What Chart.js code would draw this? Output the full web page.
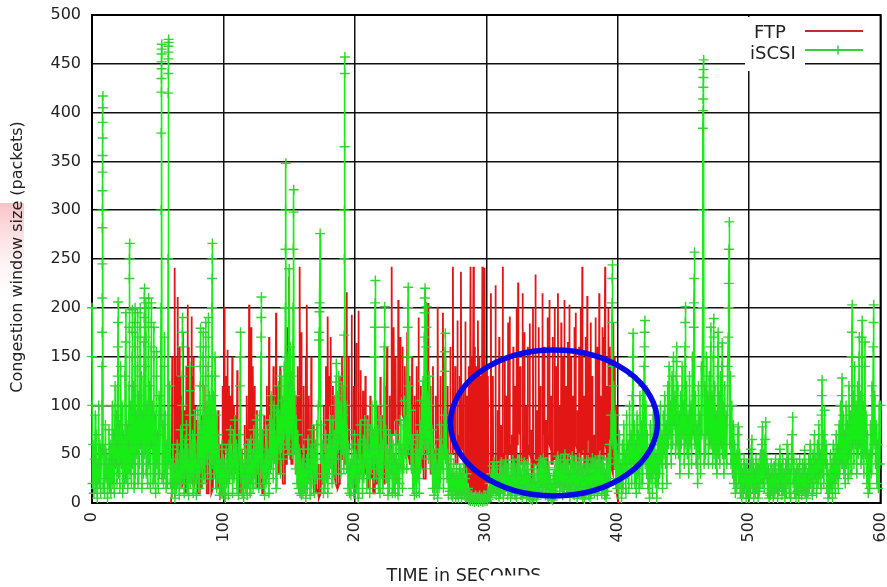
<!DOCTYPE html>
<html>
<head>
<meta charset="utf-8">
<script src="https://cdn.jsdelivr.net/npm/chart.js@4.4.1/dist/chart.umd.min.js"></script>
<style>
  html, body { margin: 0; padding: 0; background: #fff; overflow: hidden; }
  canvas { display: block; }
</style>
</head>
<body>
<canvas id="cwnd" width="887" height="587"></canvas>
<script>
// Axis ticks
const timeTicks = [0, 100, 200, 300, 400, 500, 600];
const cwndTicks = [0, 50, 100, 150, 200, 250, 300, 350, 400, 450, 500];
const seriesNames = ['FTP', 'iSCSI'];
const xTitle = 'TIME in SECONDS';
const yTitle = 'Congestion window size (packets)';

// FTP congestion window, [time (s), cwnd (packets)]
const ftpSamples = [
  [60,0],
  [60.7,10],[61,150],[61.3,25],[62.6,20],[62.9,241],[63.2,40],[63.4,45],[63.6,150],[63.9,30],
  [64.1,30],[64.3,130],[64.6,20],[64.9,25],[65.2,211],[65.5,50],[66.3,40],[66.6,160],[66.9,30],
  [67.1,35],[67.3,130],[67.6,20],[67.8,25],[68,110],[68.3,15],[68.9,20],[69.2,175],[69.5,45],
  [70.2,30],[70.5,95],[70.8,10],[71.5,20],[71.8,140],[72.1,40],[72.5,40],[72.7,203],[73,30],
  [73.2,35],[73.4,160],[73.7,50],[74.2,45],[74.5,120],[74.8,55],[75.4,60],[75.7,191],[76,45],
  [76.2,45],[76.4,130],[76.7,20],[77,20],[77.2,150],[77.5,15],[78.1,20],[78.4,100],[78.7,30],
  [79.7,25],[80,85],[80.3,10],[81.7,10],[82,60],[82.3,15],[83.2,15],[83.5,90],[83.8,25],
  [84.7,25],[85,120],[85.3,40],[86.7,30],[87,75],[87.3,10],[88.3,10],[88.6,100],[88.9,30],
  [90.2,25],[90.5,65],[90.8,10],[92,15],[92.3,110],[92.6,35],[93.9,30],[94.2,80],[94.5,15],
  [95.7,15],[96,95],[96.3,20],[97.7,15],[98,60],[98.3,10],[99.1,15],[99.4,120],[99.7,45],
  [100.3,40],[100.6,201],[100.9,60],[101.6,55],[101.8,130],[102.1,80],[102.8,70],[103,157],[103.3,40],
  [104,40],[104.2,120],[104.5,70],[105.1,65],[105.3,110],[105.6,60],[106.4,60],[106.7,150],[107,30],
  [107.7,30],[108,100],[108.3,55],[109,50],[109.3,90],[109.6,60],[110.2,55],[110.5,136],[110.8,20],
  [112,20],[112.3,70],[112.6,10],[113.7,10],[114,55],[114.3,15],[115.7,15],[116,80],[116.3,20],
  [117.4,20],[117.7,110],[118,40],[119.2,40],[119.5,203],[119.8,70],[120.8,65],[121,180],[121.3,50],
  [122,50],[122.3,140],[122.6,90],[123.5,85],[123.7,120],[124,30],[125.2,30],[125.5,95],[125.8,15],
  [127.1,15],[127.4,75],[127.7,20],[128.9,20],[129.2,60],[129.5,10],[130.7,10],[131,90],[131.3,25],
  [132.7,25],[133,120],[133.3,60],[134.5,55],[134.7,170],[135,35],[136,35],[136.3,110],[136.6,55],
  [137.7,50],[138,140],[138.3,45],[139.7,45],[140,195],[140.3,60],[141.2,60],[141.4,120],[141.7,30],
  [142.8,30],[143.1,140],[143.4,50],[144.7,45],[145,100],[145.3,20],[146.5,20],[146.8,130],[147.1,40],
  [148.3,40],[148.6,180],[148.9,70],[149.6,70],[149.8,232],[150.1,50],[151,45],[151.3,120],[151.6,40],
  [152.7,40],[153,150],[153.3,60],[154.4,55],[154.7,110],[155,30],[156.2,30],[156.5,140],[156.8,50],
  [157.7,50],[158,242],[158.3,60],[159.1,60],[159.3,175],[159.6,40],
  [160.7,35],[161,120],[161.3,30],[162.2,30],[162.5,150],[162.8,120],[163.1,120],[163.4,203],[163.7,50],
  [164.7,45],[165,110],[165.3,25],[166.5,25],[166.8,150],[167.1,40],[168.3,35],[168.6,80],[168.9,10],
  [170.2,10],[170.5,60],[170.8,15],[172.1,10],[172.4,40],[172.7,5],[174,10],[174.3,55],[174.6,20],
  [175.9,20],[176.2,100],[176.5,35],[177.7,35],[178,140],[178.3,60],[179,60],[179.3,191],[179.6,70],
  [180.3,70],[180.6,130],[180.9,100],[181.3,100],[181.6,170],[181.9,40],[183,35],[183.3,120],[183.6,30],
  [184.7,25],[185,110],[185.3,20],[186.5,15],[186.8,90],[187.1,15],[188.3,20],[188.6,130],[188.9,45],
  [189.9,45],[190.2,150],[190.5,60],[191.7,55],[192,120],[192.3,40],[193.4,40],[193.7,216],[194,70],
  [195.1,65],[195.4,150],[195.7,55],[197.2,55],[197.5,193],[197.8,60],[198.9,55],[199.2,120],[199.5,30],
  [200.7,30],[201,164],[201.3,45],[202.4,45],[202.7,197],[203,60],[204.1,55],[204.4,136],[204.7,40],
  [205.9,35],[206.2,115],[206.5,30],[207.7,30],[208,130],[208.3,50],[209.5,45],[209.8,90],[210.1,15],
  [211.4,15],[211.7,110],[212,30],[213.3,25],[213.6,70],[213.9,10],[215.2,10],[215.5,85],[215.8,20],
  [217.1,20],[217.4,100],[217.7,30],[219.1,30],[219.4,129],[219.7,40],[221,35],[221.3,90],[221.6,20],
  [222.7,20],[223,120],[223.3,60],[224.2,60],[224.5,160],[224.8,35],[226.1,35],[226.4,110],[226.7,50],
  [227.8,50],[228,242],[228.3,70],[229.3,70],[229.5,180],[229.8,90],[230.8,85],[231,150],[231.3,60],
  [232.8,60],[233,208],[233.3,80],[234.3,80],[234.5,170],[234.8,110],[236,110],[236.2,160],[236.5,90],
  [237.8,85],[238,140],[238.3,70],[239.6,70],[239.8,175],[240.1,50],[241.4,45],[241.6,130],[241.9,40],
  [243.3,40],[243.5,150],[243.8,60],[245.1,55],[245.3,110],[245.6,30],[246.8,30],[247,140],[247.3,50],
  [248.2,50],[248.4,190],[248.7,70],[250,65],[250.2,120],[250.5,40],[251.8,35],[252,100],[252.3,25],
  [253.6,25],[253.8,140],[254.1,50],[255.5,50],[255.7,205],[256,60],[257.3,55],[257.5,120],[257.8,30],
  [259.2,30],[259.4,140],[259.7,55],[261.2,50],[261.4,110],[261.7,20],[262.8,20],[263,201],[263.3,50],
  [264.8,45],[265,130],[265.3,40],[266.8,40],[267,195],[267.3,60],[268.6,55],[268.8,150],[269.1,45],
  [270.4,40],[270.6,120],[270.9,30],[272.4,30],[272.6,160],[272.9,50],[274.4,50],[274.6,242],[274.9,60],
  [276.1,55],[276.3,140],[276.6,40],[277.8,40],[278,187],[278.3,70],[279.4,65],[279.6,130],[279.9,50],
  [280.5,50],[280.7,237],[281,60],[282.2,55],[282.4,120],[282.7,40],[283.8,40],[284,186],[284.3,30],
  [285.3,110],[285.9,20],[286.7,140],[287.3,15],[288,242],[288.4,10],[289.1,150],[289.6,15],[290.2,242],[290.6,10],
  [291.3,160],[291.8,12],[292.5,140],[293,10],[293.6,187],[294.1,12],[294.8,150],[295.3,8],[296,130],[296.5,10],
  [297,242],[297.4,8],[298,150],[298.4,10],[298.7,241],[299.2,12],[299.9,140],[300.4,10],[301.2,130],[301.8,20],
  [303.2,30],[303.5,215],[303.8,40],
  [304.8,40],[305,130],[305.2,45],[306.8,40],[307,223],[307.2,30],[308.4,30],[308.6,95],[308.8,25],
  [309.6,25],[309.8,170],[310,50],[311,45],[311.2,80],[311.4,20],[312.3,20],[312.5,242],[312.7,50],
  [313.8,45],[314,150],[314.2,35],[315.1,35],[315.3,110],[315.5,40],[316.4,40],[316.6,185],[316.8,55],
  [317.6,50],[317.8,191],[318,60],[319.1,55],[319.3,70],[319.5,20],[320.3,25],[320.5,160],[320.7,40],
  [321.7,40],[321.9,120],[322.1,30],[322.8,30],[323,200],[323.2,60],[324,60],[324.2,226],[324.4,80],
  [325.6,70],[325.8,140],[326,40],[327.4,40],[327.6,215],[327.8,70],[328.8,60],[329,175],[329.2,45],
  [330,45],[330.2,100],[330.4,40],[331.3,40],[331.5,160],[331.7,60],[332.8,55],[333,184],[333.2,50],
  [334.2,45],[334.4,75],[334.6,25],[335.3,30],[335.5,200],[335.7,45],[337.2,40],[337.4,234],[337.6,70],
  [338.5,60],[338.7,95],[338.9,30],[339.7,30],[339.9,180],[340.1,55],[341,50],[341.2,120],[341.4,40],
  [342.5,40],[342.7,215],[342.9,80],[343.9,70],[344.1,160],[344.3,45],[345.2,45],[345.4,85],[345.6,30],
  [346.4,30],[346.6,190],[346.8,70],[347.8,65],[348,208],[348.2,60],[349.1,55],[349.3,110],[349.5,40],
  [350.3,40],[350.5,170],[350.7,50],[351.8,45],[352,200],[352.2,50],[353.1,45],[353.3,140],[353.5,45],
  [354.3,50],[354.5,215],[354.7,70],[355.6,60],[355.8,100],[356,30],[356.8,30],[357,185],[357.2,45],
  [358.1,40],[358.3,150],[358.5,60],[359.2,60],[359.4,208],[359.6,50],[360.5,45],[360.7,120],[360.9,30],
  [361.8,30],[362,165],[362.2,40],[363,40],[363.2,203],[363.4,60],[364.3,55],[364.5,150],[364.7,50],
  [365.6,45],[365.8,110],[366,35],[366.8,35],[367,180],[367.2,60],[367.8,60],[368,195],[368.2,60],
  [369.2,55],[369.4,95],[369.6,30],[370.4,30],[370.6,160],[370.8,45],[371.6,40],[371.8,200],[372,50],
  [372.8,50],[373,242],[373.2,60],[374.1,55],[374.3,110],[374.5,35],[375.3,35],[375.5,170],[375.7,40],
  [376.6,40],[376.8,212],[377,70],[377.9,65],[378.1,150],[378.3,40],[379.2,35],[379.4,185],[379.6,50],
  [380.5,45],[380.7,130],[380.9,30],[381.8,25],[382,70],[382.2,20],[382.9,25],[383.1,190],[383.3,50],
  [384.3,45],[384.5,160],[384.7,50],[385.7,50],[385.9,215],[386.1,60],[387,55],[387.2,110],[387.4,40],
  [388.1,40],[388.3,180],[388.5,50],[389.2,45],[389.4,170],[389.6,60],[390.2,60],[390.4,242],[390.6,60],
  [391.4,55],[391.6,120],[391.8,40],[392.6,40],[392.8,200],[393,50],[393.8,45],[394,160],[394.2,40],
  [395.1,35],[395.3,140],[395.5,35],[396.3,30],[396.5,185],[396.7,40],[397.5,35],[397.7,150],[397.9,40],
  [398.9,35],[399.1,100],[399.4,10],[400.5,0]
];

// iSCSI congestion window, [time (s), cwnd (packets)]
const iscsiSamples = [
  [0,200],[0.1,150],[0.2,100],[0.4,20],[0.9,60],[1.4,10],[2,45],[2.5,90],[2.9,15],[3.5,70],
  [4,5],[4.6,40],[5.1,100],[5.5,20],[6.1,60],[6.6,10],[7.2,50],
  [7.6,100],[7.7,140],[7.75,175],[7.8,210],[7.85,245],[7.9,282],[7.95,300],[8,320],[8.05,339],[8.1,356],
  [8.15,374],[8.2,390],[8.25,405],[8.3,417],[8.5,15],
  [9.1,55],[9.6,10],[10.2,80],[10.7,25],[11.3,50],[11.8,5],[12.4,40],[12.9,75],[13.3,15],[13.9,60],
  [14.4,10],[15,45],[15.5,100],[15.9,20],[16.5,70],[17,10],[17.6,120],[18,40],[18.6,90],[19,20],
  [19.4,60],[19.5,100],[19.6,130],[19.7,160],[19.8,185],[19.9,206],[20.1,30],
  [20.7,80],[21.2,15],[21.8,140],[22.3,40],[22.9,100],[23.4,10],[24,70],[24.5,20],[25.1,130],[25.6,165],
  [25.8,195],[26.1,25],[26.7,80],[27.2,15],[27.8,60],
  [28.2,120],[28.3,180],[28.4,230],[28.5,250],[28.7,266],[28.9,30],
  [29.5,100],[30,20],[30.5,150],[30.6,175],[30.7,198],[30.9,40],[31.5,120],[32,15],[32.6,160],[32.7,185],
  [32.8,200],[33,30],[33.6,90],[34.1,50],[34.6,140],[34.7,170],[34.8,195],[35,20],[35.6,110],[36.1,40],
  [36.6,180],[36.7,200],[36.9,60],[37.5,130],[38,15],[38.6,90],[39.1,30],[39.6,165],[39.7,190],[39.8,210],
  [40,220],[40.2,50],[40.8,140],[40.9,170],[41,205],[41.2,30],[41.8,100],[42.3,20],[42.8,150],[42.9,180],
  [43,200],[43.1,210],[43.3,40],[43.9,120],[44.4,15],[45,160],[45.1,185],[45.2,205],[45.4,60],[46,100],
  [46.5,20],[47,150],[47.1,180],[47.3,30],[47.9,90],[48.4,10],[49,130],[49.1,155],[49.3,40],[49.9,70],
  [50.4,15],[51,110],[51.5,30],[52.1,90],
  [52.5,200],[52.6,300],[52.7,379],[52.8,421],[52.85,435],[52.9,445],[52.95,452],[53,460],[53.05,465],[53.1,470],[53.3,25],
  [53.9,80],[54.4,20],[55,140],[55.1,170],[55.3,30],[55.9,90],[56.4,15],[57,60],[57.5,20],
  [57.9,250],[58,420],[58.05,440],[58.1,455],[58.15,462],[58.2,468],[58.25,472],[58.3,475],[58.5,40],
  [59.1,120],[59.6,20],
  [60.4,40],[60.9,10],[61.5,55],[62,20],[62.6,35],[63.1,5],[63.7,45],[64.2,15],[64.8,60],[65.3,20],
  [65.9,40],[66.4,8],[67,50],[67.5,75],[67.9,20],
  [68.5,60],[68.6,100],[68.7,130],[68.8,160],[68.85,175],[68.9,190],[69.1,25],
  [69.7,50],[70.2,10],[70.8,65],[71.3,30],[71.9,80],[72.3,15],[72.9,55],[73.4,8],[74,45],
  [74.4,90],[74.5,115],[74.6,140],[74.8,20],
  [75.4,60],[75.9,25],[76.5,70],[77,10],[77.6,50],[78.1,90],[78.3,30],[78.9,60],[79.4,8],[80,45],
  [80.5,95],[80.7,25],[81.3,70],[81.8,15],
  [82.3,120],[82.4,140],[82.5,160],[82.6,179],[82.8,35],
  [83.4,80],[83.9,20],
  [84.4,120],[84.5,150],[84.6,175],[84.8,40],
  [85.4,90],[85.9,25],
  [86.4,130],[86.5,160],[86.6,185],[86.8,45],
  [87.4,100],[87.9,30],
  [88.4,140],[88.5,170],[88.6,190],[88.8,50],
  [89.4,110],[89.9,25],[90.5,90],[91,130],
  [91.3,200],[91.4,230],[91.5,250],[91.6,266],[91.8,40],
  [92.4,110],[92.9,30],[93.5,130],[93.6,150],[93.8,45],[94.4,90],[94.9,15],[95.5,70],[96,25],[96.6,55],
  [97.1,8],[97.7,40],[98.2,15],[98.8,60],[99.3,10],
  [99.9,45],[100.4,8],[101,35],[101.5,5],[102.1,55],[102.6,20],[103.2,40],[103.7,8],[104.3,60],[104.8,25],
  [105.4,75],[105.9,30],[106.5,50],[107,10],[107.6,70],[108.1,25],[108.7,85],[109.2,35],[109.8,60],[110.3,15],
  [110.9,45],[111.4,8],[112,70],
  [112.6,120],[112.8,150],[113,175],[113.2,25],
  [113.8,50],[114.3,10],[114.9,40],[115.4,5],[116,30],[116.5,55],[117,15],[117.6,40],[118.1,8],[118.7,60],
  [119.2,20],[119.8,45],[120.3,10],[120.9,65],[121.4,25],[122,50],[122.5,15],[123.1,75],[123.6,30],[124.2,55],
  [124.7,20],[125.3,85],[125.8,35],[126.4,60],[126.9,15],[127.5,90],[128,40],
  [128.6,150],[128.7,170],[128.8,190],[128.9,211],[129.1,30],
  [129.7,70],[130.2,20],[130.8,45],[131.3,8],[131.9,55],[132.4,20],[133,75],[133.5,30],[134.1,50],[134.6,10],
  [135.2,85],[135.7,35],[136.3,110],[136.8,45],[137.4,80],[137.9,25],[138.5,100],[139,45],[139.6,70],[140.1,15],
  [140.7,95],[141.2,45],[141.8,120],[142.3,55],[142.9,90],[143.4,30],[144,130],[144.5,60],[145.1,105],[145.6,45],
  [146.2,140],[146.7,70],
  [147.1,200],[147.2,260],[147.3,300],[147.5,348],[147.8,60],
  [148.4,150],[148.9,55],[149.5,120],[150,240],[150.2,50],[150.8,160],[151.3,70],[151.9,130],[152.4,50],
  [153,200],[153.2,260],[153.3,298],[153.5,321],[153.8,55],
  [154.4,110],[154.9,35],[155.5,85],[156,20],[156.6,70],[157.1,15],[157.7,55],[158.2,10],[158.8,45],[159.3,8],
  [160,40],[160.5,10],[161.1,55],[161.6,15],[162.2,35],[162.7,5],[163.3,45],[163.8,15],[164.4,65],[164.9,25],
  [165.5,40],[166,8],[166.6,55],[167.1,20],[167.7,75],[168.2,30],[168.8,50],[169.3,10],[169.9,60],[170.4,25],
  [171,80],[171.5,30],[172.1,100],
  [172.6,167],[172.8,175],[173,196],[173.2,205],[173.6,276],[173.9,45],
  [174.5,80],[175,25],[175.6,60],[176.1,10],[176.7,45],[177.2,15],[177.8,70],[178.3,25],[178.9,55],[179.4,10],
  [180,65],[180.5,30],[181.1,85],[181.6,40],[182.2,60],[182.7,20],[183.3,85],[183.8,45],[184.4,70],[184.9,30],
  [185.5,100],[185.7,124],[185.9,143],[186.1,45],
  [186.7,110],[187.2,55],[187.8,130],[188.3,65],[188.9,100],[189.4,30],[190,120],[190.5,55],[191.1,90],[191.6,35],
  [191.9,172],[192,250],[192.1,300],[192.2,365],[192.3,440],[192.4,457],[192.6,50],
  [193.2,100],[193.7,35],[194.3,75],[194.8,15],[195.4,55],[195.9,10],[196.5,40],[197,8],[197.6,60],[198.1,20],
  [198.7,45],[199.2,10],[199.8,70],[200.3,25],[200.9,50],[201.4,15],[202,40],[202.5,5],[203.1,60],[203.6,25],
  [204.2,80],[204.7,30],[205.3,45],[205.8,10],[206.4,65],[206.9,25],[207.5,85],[208,40],[208.6,60],[209.1,15],
  [209.7,80],[210.2,30],[210.8,55],[211.3,10],[211.9,75],[212.4,35],[213,100],[213.5,45],[214.1,70],[214.6,25],
  [215.1,150],[215.2,180],[215.4,205],[215.6,228],[215.8,45],
  [216.4,100],[216.9,35],[217.5,75],[218,15],[218.6,55],[219.1,10],[219.7,85],[220.2,30],[220.8,60],[221.3,15],
  [221.9,100],
  [222.4,160],[222.6,180],[222.8,201],[223,40],
  [223.6,75],[224.1,25],[224.7,55],[225.2,8],[225.8,40],[226.3,15],[226.9,70],[227.4,30],[228,50],[228.5,10],
  [229.1,60],[229.6,15],
  [230.2,45],[230.7,10],[231.3,70],[231.8,25],[232.4,40],[232.9,8],[233.5,60],[234,20],[234.6,85],[235.1,35],
  [235.7,55],[236.2,15],[236.8,80],[237.3,35],[237.9,105],[238.4,50],[239,85],[239.5,35],
  [240,150],[240.2,180],[240.4,200],[240.6,221],[240.8,55],
  [241.4,120],[241.9,60],[242.5,95],[243,35],[243.6,65],[244.1,15],[244.7,50],[245.2,8],[245.8,35],[246.3,55],
  [246.8,10],[247.4,70],[247.9,25],[248.5,50],[249,10],[249.6,80],[250.1,35],[250.7,105],[251.2,50],[251.8,125],
  [252.3,65],
  [252.8,170],[253,195],[253.2,210],[253.4,220],[253.6,60],
  [254.2,160],[254.4,180],[254.6,201],[254.8,55],[255.4,110],[255.9,45],[256.5,130],[257,60],[257.6,100],[258.1,35],
  [258.7,75],[259.2,15],[259.8,50],[260.3,8],[260.9,35],[261.4,55],[261.9,15],[262.5,40],[263,5],[263.6,50],
  [264.1,15],[264.7,65],[265.2,25],[265.8,80],[266.3,35],[266.9,55],[267.4,15],[268,90],
  [268.4,135],[268.6,155],[268.8,174],[269,45],
  [269.6,80],[270.1,25],[270.7,50],[271.2,8],[271.8,35],[272.3,12],[272.9,45],[273.4,8],[274,30],[274.5,5],
  [275.1,40],[275.6,12],[276.2,28],[276.7,5],[277.3,35],[277.8,8],[278.4,28],[278.9,5],[279.5,35],
  [280,10],[280.6,35],[281.1,5],[281.7,30],[282.2,8],[282.8,40],[283.3,10],[283.9,25],[284.4,5],[285,30],
  [285.5,8],[286.1,15],[286.6,3],[287.2,10],[287.8,2],[288.6,8],[289.4,2],[290.2,6],[291,1],[291.8,8],
  [292.6,2],[293.4,6],[294.2,1],[295,8],[295.8,2],[296.6,6],[297.4,1],[298.2,8],[299,2],[299.8,6],
  [300.6,2],[301.4,12],[302,4],[302.6,20],[303.1,6],[303.7,30],[304.2,10],[304.8,38],[305.3,12],[305.9,42],
  [306.4,15],[307,30],[307.5,8],[308.1,38],[308.6,12],[309.2,25],[309.7,5],[310.3,35],[310.8,10],[311.4,42],
  [311.9,15],[312.5,30],[313,5],[313.6,38],[314.1,12],[314.7,44],[315.2,18],[315.8,35],[316.3,8],[316.9,40],
  [317.4,12],[318,28],[318.5,5],[319.1,36],[319.6,10],[320.2,44],[320.7,15],[321.3,38],[321.8,8],[322.4,30],
  [322.9,5],[323.5,40],[324,12],[324.6,45],[325.1,18],[325.7,36],[326.2,8],[326.8,28],[327.3,5],[327.9,38],
  [328.4,10],[329,42],[329.5,15],[330.1,34],[330.6,6],[331.2,40],[331.7,12],[332.3,30],[332.8,5],[333.4,25],
  [333.9,4],[334.5,20],[335,3],[335.6,28],[336.1,6],[336.7,35],[337.2,10],[337.8,22],[338.3,4],[338.9,30],
  [339.4,8],[340,38],[340.5,12],[341.1,44],[341.6,16],[342.2,40],[342.7,10],[343.3,46],[343.8,18],[344.4,38],
  [344.9,8],[345.5,42],[346,14],[346.6,30],[347.1,6],[347.7,36],[348.2,10],[348.8,24],[349.3,4],[349.9,20],
  [350.4,3],[351,28],[351.5,6],[352.1,34],[352.6,10],[353.2,42],[353.7,16],[354.3,48],[354.8,20],[355.4,40],
  [355.9,12],[356.5,45],[357,18],[357.6,36],[358.1,8],[358.7,44],[359.2,14],[359.8,50],[360.3,20],[360.9,38],
  [361.4,10],[362,44],[362.5,16],[363.1,30],[363.6,6],[364.2,40],[364.7,12],[365.3,48],[365.8,18],[366.4,36],
  [366.9,8],[367.5,42],[368,14],[368.6,30],[369.1,5],[369.7,38],[370.2,10],[370.8,46],[371.3,16],[371.9,40],
  [372.4,10],[373,34],[373.5,6],[374.1,28],[374.6,4],[375.2,36],[375.7,10],[376.3,44],[376.8,16],[377.4,38],
  [377.9,8],[378.5,30],[379,5],[379.6,40],[380.1,12],[380.7,46],[381.2,18],[381.8,40],[382.3,10],[382.9,44],
  [383.4,16],[384,36],[384.5,8],[385.1,42],[385.6,14],[386.2,48],[386.7,18],[387.3,38],[387.8,10],[388.4,44],
  [388.9,15],[389.5,36],[390,8],[390.6,30],[391.1,5],[391.7,40],[392.2,12],[392.8,46],[393.3,20],[393.9,60],
  [394.4,25],[395,90],
  [395.4,140],[395.6,185],[395.7,205],[395.8,230],[396,244],[396.3,60],
  [396.9,120],[397.4,40],[398,90],[398.5,20],[399.1,60],[399.6,15],
  [400.2,50],[400.7,10],[401.3,70],[401.8,20],[402.4,40],[402.9,5],[403.5,60],[404,15],[404.6,80],[405.1,30],
  [405.7,50],[406.2,10],[406.8,90],[407.3,30],[407.9,60],[408.4,15],[409,100],[409.5,40],[410.1,70],[410.6,20],
  [411.1,110],[411.3,130],[411.5,150],[411.7,174],[411.9,40],
  [412.5,80],[413,20],[413.6,60],[414.1,10],[414.7,90],[415.2,30],[415.8,70],[416.3,15],[416.9,110],[417.4,40],
  [418,80],[418.5,20],[419.1,120],[419.6,50],
  [420.1,140],[420.3,160],[420.5,175],[420.7,187],[420.9,40],
  [421.5,100],[422,30],[422.6,70],[423.1,15],[423.7,50],[424.2,5],[424.8,80],[425.3,25],[425.9,60],[426.4,10],
  [427,90],[427.5,30],[428.1,70],[428.6,20],[429.2,50],[429.7,5],[430.3,60],[430.8,20],[431.4,80],[431.9,30],
  [432.5,100],[433,40],[433.6,70],[434.1,15],[434.7,90],[435.2,50],[435.8,110],[436.3,40],[436.9,80],[437.4,20],
  [438,120],[438.5,60],[439.1,140],[439.6,70],[440.2,100],[440.7,40],[441.3,130],[441.8,60],[442.4,150],[442.9,80],
  [443.5,110],[444,50],
  [444.5,130],[444.7,145],[444.9,160],[445.1,60],
  [445.7,120],[446.2,50],[446.8,90],[447.3,30],[447.9,110],[448.4,60],[449,140],[449.5,70],[450.1,100],[450.6,40],
  [451.2,160],[451.4,185],[451.6,201],[451.8,60],[452.4,120],[452.9,50],[453.5,90],[454,30],[454.6,130],[455.1,60],
  [455.7,100],[456.2,40],[456.8,150],[457.3,70],
  [457.8,180],[458,205],[458.2,230],[458.4,257],[458.6,60],
  [459.2,110],[459.7,40],[460.3,80],[460.8,20],[461.4,120],[461.9,50],[462.5,90],[463,30],[463.6,140],[464.1,70],
  [464.6,200],[464.7,300],[464.8,384],[464.9,402],[465,414],[465.1,426],[465.2,436],[465.3,444],[465.4,454],[465.7,40],
  [466.3,120],[466.8,50],[467.4,150],[467.9,70],[468.5,110],[469,40],[469.6,130],[470.1,60],
  [470.7,160],[470.9,180],[471.1,60],[471.7,110],[472.2,40],
  [472.7,150],[472.9,170],[473.1,189],[473.3,50],
  [473.9,120],[474.4,40],[475,90],[475.5,30],
  [476,140],[476.2,160],[476.4,175],[476.6,50],
  [477.2,110],[477.7,40],[478.3,130],[478.8,60],
  [479.3,140],[479.5,164],[479.7,50],
  [480.3,100],[480.8,30],[481.4,120],[481.9,50],[482.5,90],[483,40],[483.6,140],
  [484.1,170],[484.3,200],[484.5,225],[484.7,260],[484.9,288],[485.1,60],
  [485.7,130],[486.2,40],[486.8,100],[487.3,30],[487.9,80],[488.4,20],[489,60],[489.5,10],[490.1,50],[490.6,15],
  [491.2,70],[491.7,78],[492.2,20],[492.8,50],[493.3,10],[493.9,40],[494.4,5],[495,30],[495.5,10],[496.1,45],
  [496.6,15],[497.2,35],[497.7,5],[498.3,40],[498.8,10],[499.4,30],[499.9,5],
  [500.5,40],[501,10],[501.6,55],[502.1,65],[502.4,15],[503,40],[503.5,5],[504.1,30],[504.6,10],[505.2,45],
  [505.7,15],[506.3,35],[506.8,5],[507.4,40],[507.9,12],[508.5,50],[509,20],[509.6,60],[510.1,78],[510.4,20],
  [511,50],[511.5,15],[512.1,65],[512.6,83],[512.9,25],[513.5,45],[514,10],[514.6,35],[515.1,5],[515.7,30],
  [516.2,8],[516.8,40],[517.3,12],[517.9,30],[518.4,5],[519,38],[519.5,10],[520.1,45],[520.6,15],[521.2,30],
  [521.7,5],[522.3,40],[522.8,12],[523.4,55],[523.9,20],[524.5,35],[525,8],[525.6,45],[526.1,15],[526.7,30],
  [527.2,5],[527.8,40],[528.3,10],[528.9,60],[529.4,20],[530,45],[530.5,10],[531.1,35],[531.6,5],[532.2,50],
  [532.7,70],[533.1,88],[533.4,20],[534,45],[534.5,10],[535.1,30],[535.6,5],[536.2,40],[536.7,12],[537.3,35],
  [537.8,5],[538.4,45],[538.9,15],[539.5,30],[540,8],[540.6,40],[541.1,12],[541.7,35],[542.2,54],[542.5,10],
  [543.1,40],[543.6,5],[544.2,30],[544.7,10],[545.3,45],[545.8,15],[546.4,60],[546.9,20],[547.5,40],[548,8],
  [548.6,50],[549.1,15],[549.7,70],[550.2,25],[550.8,45],[551.3,10],[551.9,60],[552.4,20],[553,80],[553.5,30],
  [554.1,50],[554.6,15],
  [555.1,90],[555.3,110],[555.5,126],[555.7,30],
  [556.3,70],[556.8,20],[557.4,95],[557.9,40],[558.5,60],[559,15],[559.6,40],[560.1,5],[560.7,30],[561.2,10],
  [561.8,50],[562.3,15],[562.9,40],[563.4,5],[564,60],[564.5,20],[565.1,45],[565.6,10],[566.2,70],[566.7,25],
  [567.3,55],[567.8,15],[568.4,80],[568.9,30],[569.5,100],[570,40],
  [570.5,110],[570.7,128],[570.9,40],
  [571.5,90],[572,30],[572.6,70],[573.1,20],[573.7,100],[574.2,40],[574.8,80],[575.3,25],[575.9,120],[576.4,50],
  [577,90],[577.5,30],
  [578,150],[578.2,175],[578.4,203],[578.6,60],
  [579.2,110],[579.7,40],[580.3,140],[580.8,60],[581.4,100],[581.9,30],[582.5,120],[583,50],[583.6,150],[583.8,170],
  [584,60],[584.6,110],[585.1,40],
  [585.6,150],[585.8,170],[586,187],[586.2,50],
  [586.8,100],[587.3,30],[587.9,140],[588.1,165],[588.4,50],[589,90],[589.5,20],[590.1,70],[590.6,10],[591.2,50],
  [591.7,15],[592.3,80],[592.8,30],[593.4,120],[593.9,50],
  [594.4,160],[594.6,185],[594.8,203],[595,60],
  [595.6,110],[596.1,40],[596.7,80],[597.2,20],[597.8,60],[598.3,15],[598.9,100],[599.4,40],[600,100]
];

// Highlighted interval (ellipse around the FTP-dominated stretch)
const highlight = { time: 351.5, cwnd: 82, halfTime: 78.7, halfCwnd: 74.8 };

const FTP_RED = '#e31616';
const ISCSI_GREEN = '#17ec17';
const ISCSI_MARK = '#2fd52f';
const TEXT = '#222';
const FONT = '"DejaVu Sans", "Liberation Sans", sans-serif';

const toXY = rows => rows.map(([t, v]) => ({ x: t, y: v }));

const decor = {
  id: 'decor',
  beforeDraw(chart) {
    const { ctx } = chart;
    ctx.save();
    ctx.fillStyle = '#fff';
    ctx.fillRect(0, 0, chart.width, chart.height);
    // faint pink smudge at the left margin
    const g = ctx.createLinearGradient(0, 203, 0, 300);
    g.addColorStop(0, 'rgba(247,184,188,0.85)');
    g.addColorStop(1, 'rgba(255,235,235,0)');
    ctx.fillStyle = g;
    ctx.fillRect(0, 203, 24, 97);
    ctx.restore();
  },
  beforeDatasetsDraw(chart) {
    const { ctx, chartArea: a } = chart;
    ctx.save();
    ctx.strokeStyle = '#000';
    ctx.lineWidth = 2;
    ctx.strokeRect(a.left, a.top, a.right - a.left, a.bottom - a.top);
    ctx.restore();
  },
  afterDatasetsDraw(chart) {
    const { ctx } = chart;
    ctx.save();
    // key box
    ctx.fillStyle = '#fff';
    ctx.fillRect(745, 17, 60, 54);
    ctx.font = '18px ' + FONT;
    ctx.fillStyle = TEXT;
    ctx.textAlign = 'left';
    ctx.textBaseline = 'alphabetic';
    ctx.fillText(seriesNames[0], 754, 38);
    ctx.fillText(seriesNames[1], 750, 59);
    ctx.lineWidth = 2;
    ctx.strokeStyle = '#c62a2a';
    ctx.beginPath(); ctx.moveTo(805, 31); ctx.lineTo(863, 31); ctx.stroke();
    ctx.strokeStyle = '#3ccc3c';
    ctx.beginPath(); ctx.moveTo(805, 50); ctx.lineTo(863, 50); ctx.stroke();
    ctx.lineWidth = 1.5;
    ctx.beginPath(); ctx.moveTo(838, 45.5); ctx.lineTo(838, 54.5); ctx.stroke();
    ctx.restore();
  },
  afterDraw(chart) {
    const { ctx, chartArea: a, scales: { x, y } } = chart;
    ctx.save();
    // axis titles
    ctx.fillStyle = TEXT;
    ctx.font = '16px ' + FONT;
    ctx.textAlign = 'center';
    ctx.textBaseline = 'middle';
    ctx.translate(18, (a.top + a.bottom) / 2 - 2);
    ctx.rotate(-Math.PI / 2);
    ctx.fillText(yTitle, 0, 0);
    ctx.setTransform(1, 0, 0, 1, 0, 0);
    ctx.font = '17.5px ' + FONT;
    ctx.textBaseline = 'alphabetic';
    ctx.fillText(xTitle, 464, 581);
    ctx.fillStyle = '#fff';
    ctx.fillRect(484, 575.5, 70, 12);
    // highlight ellipse
    const cx = x.getPixelForValue(highlight.time);
    const cy = y.getPixelForValue(highlight.cwnd);
    const rx = x.getPixelForValue(highlight.time + highlight.halfTime) - cx;
    const ry = cy - y.getPixelForValue(highlight.cwnd + highlight.halfCwnd);
    ctx.strokeStyle = '#0909e6';
    ctx.lineWidth = 5.5;
    ctx.beginPath();
    ctx.ellipse(cx, cy, rx, ry, 0, 0, Math.PI * 2);
    ctx.stroke();
    ctx.restore();
  }
};

new Chart(document.getElementById('cwnd'), {
  type: 'line',
  data: {
    datasets: [
      {
        label: seriesNames[1],
        data: toXY(iscsiSamples),
        borderColor: ISCSI_GREEN,
        borderWidth: 1.6,
        pointStyle: 'cross',
        pointRadius: 5,
        pointBorderWidth: 1.4,
        pointBorderColor: ISCSI_MARK,
        pointHoverRadius: 0,
        tension: 0,
        clip: false,
        order: 0
      },
      {
        label: seriesNames[0],
        data: toXY(ftpSamples),
        borderColor: FTP_RED,
        borderWidth: 1.8,
        pointRadius: 0,
        pointHoverRadius: 0,
        tension: 0,
        order: 1
      }
    ]
  },
  options: {
    responsive: false,
    animation: false,
    events: [],
    layout: { padding: { top: 15, right: 2, bottom: 0, left: 0 } },
    plugins: { legend: { display: false }, tooltip: { enabled: false } },
    scales: {
      x: {
        type: 'linear',
        min: 0,
        max: 600,
        afterBuildTicks: s => { s.ticks = timeTicks.map(v => ({ value: v })); },
        afterFit: s => { s.height = 84; s.paddingLeft = 0; s.paddingRight = 0; },
        ticks: {
          minRotation: 90,
          maxRotation: 90,
          padding: 9,
          color: TEXT,
          font: { family: FONT, size: 16 }
        },
        grid: { color: '#111', lineWidth: 1.5, drawTicks: false },
        border: { color: '#000', width: 2 }
      },
      y: {
        min: 0,
        max: 500,
        afterBuildTicks: s => { s.ticks = cwndTicks.map(v => ({ value: v })); },
        afterFit: s => { s.width = 92; s.paddingTop = 0; s.paddingBottom = 0; },
        ticks: {
          padding: 11,
          color: TEXT,
          font: { family: FONT, size: 16 }
        },
        grid: { color: '#111', lineWidth: 1.5, drawTicks: false },
        border: { color: '#000', width: 2 }
      }
    }
  },
  plugins: [decor]
});
</script>
</body>
</html>
